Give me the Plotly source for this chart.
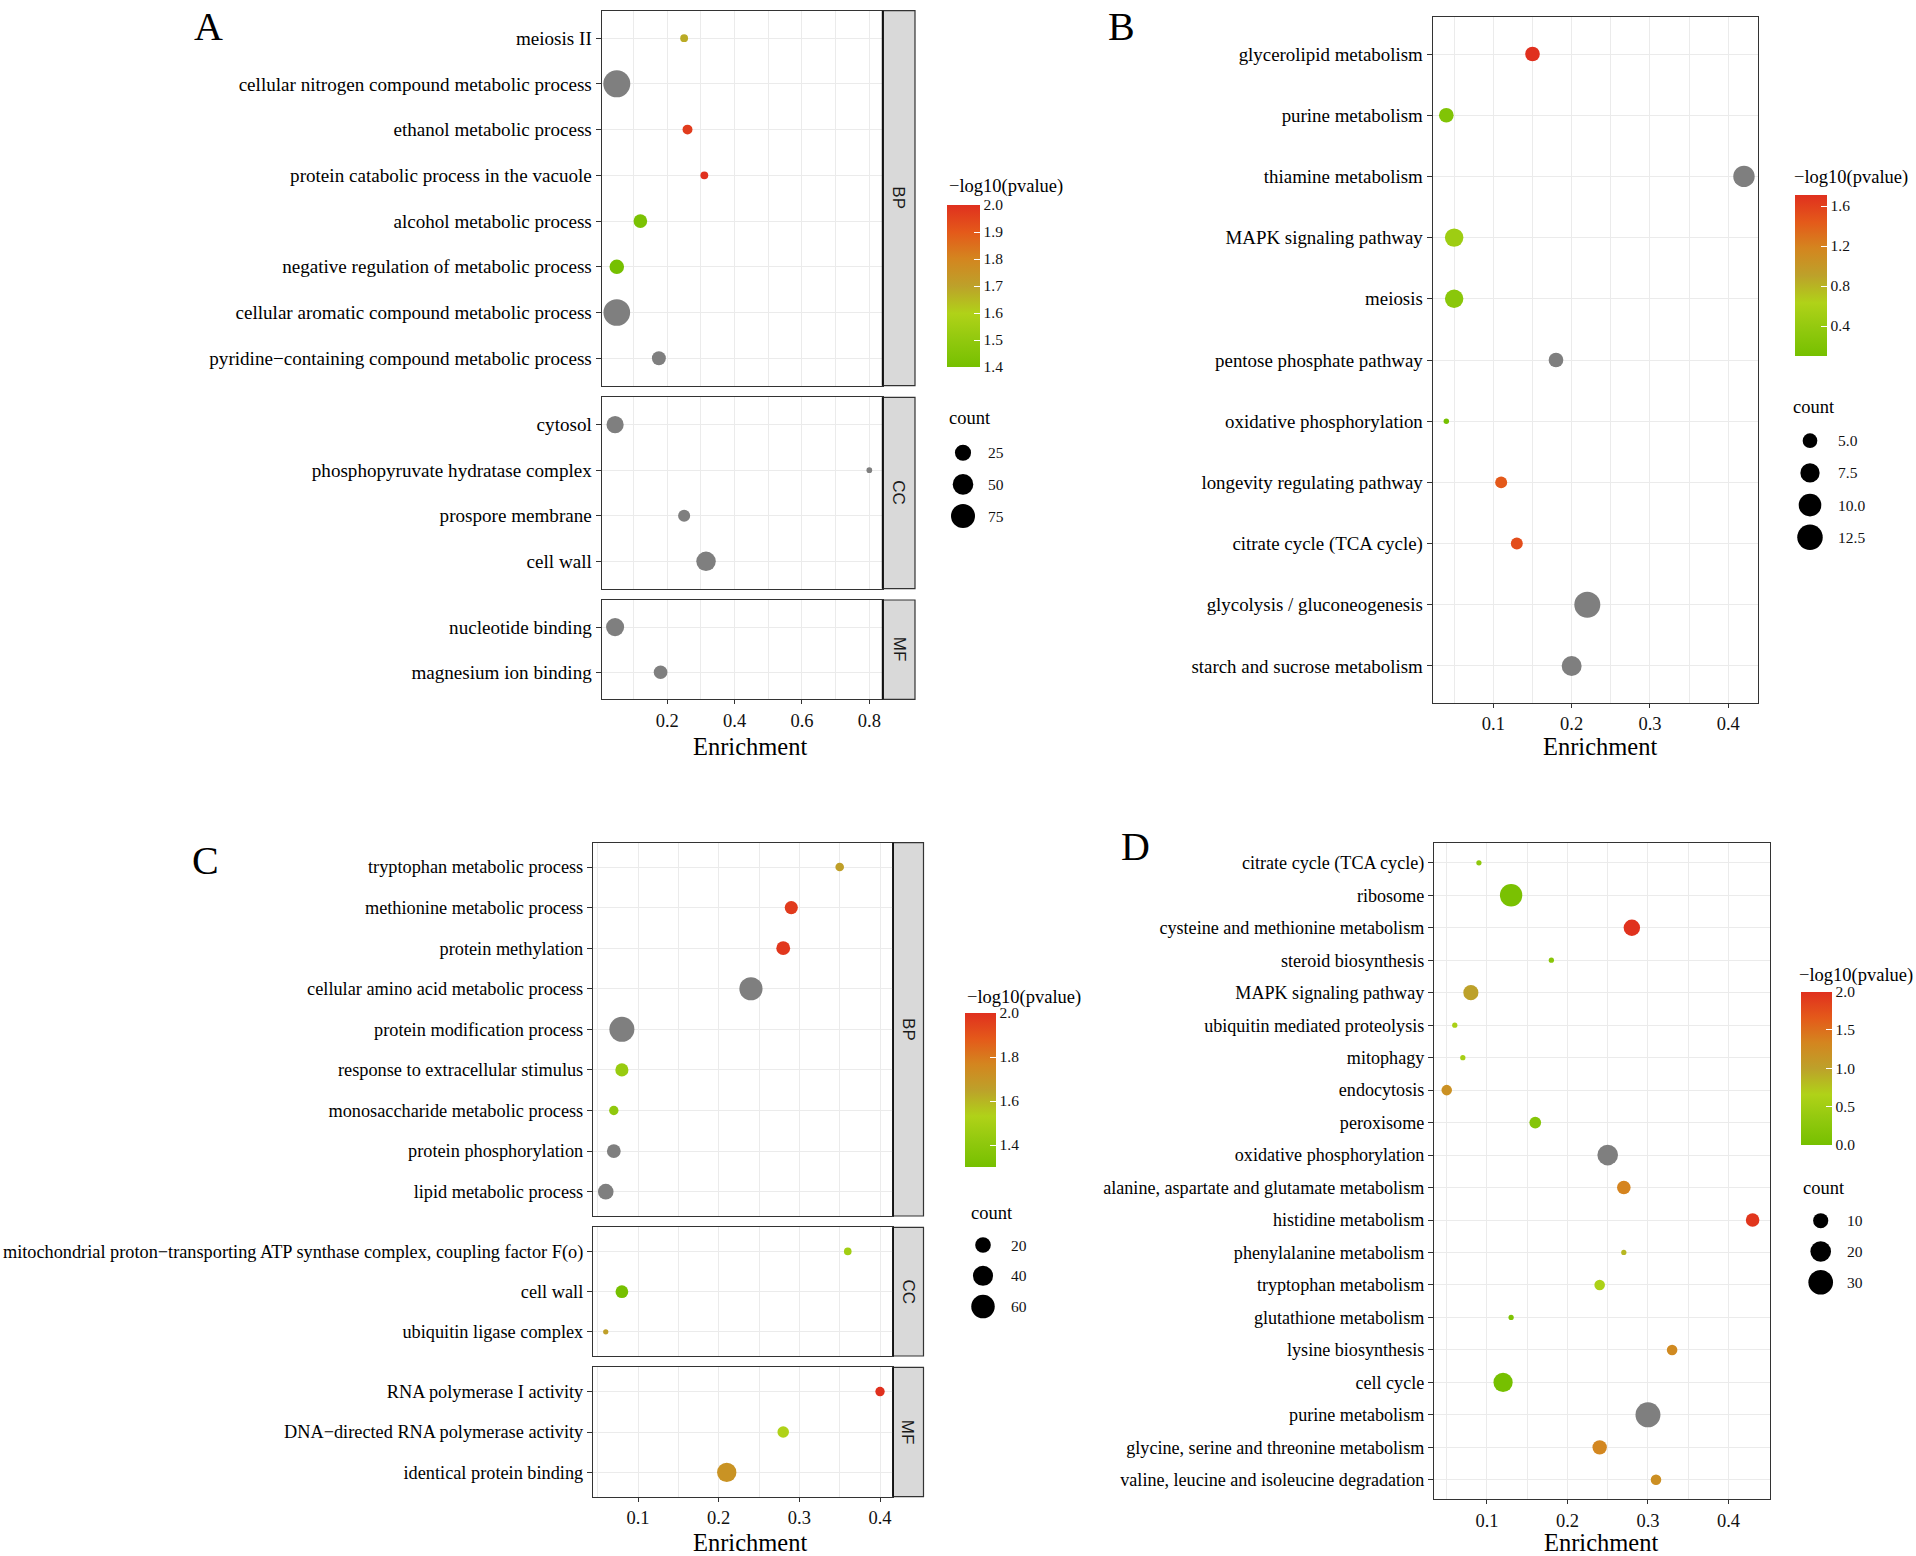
import plotly.graph_objects as go

W, H = 1916, 1556
SERIF = "Liberation Serif"
SANS = "Liberation Sans"
GRID = "#EBEBEB"
LINE = "#333333"
NA_COLOR = "#7F7F7F"

# ---------------- DATA ----------------
# Panel A (GO)
A_BP_terms = ["meiosis II", "cellular nitrogen compound metabolic process", "ethanol metabolic process",
              "protein catabolic process in the vacuole", "alcohol metabolic process",
              "negative regulation of metabolic process", "cellular aromatic compound metabolic process",
              "pyridine\u2212containing compound metabolic process"]
A_BP_enrich = [0.25, 0.05, 0.26, 0.31, 0.12, 0.05, 0.05, 0.175]
A_BP_logp = [1.68, None, 1.97, 2.00, 1.42, 1.40, None, None]
A_BP_count = [2, 101, 5, 2, 15, 18, 98, 16]

A_CC_terms = ["cytosol", "phosphopyruvate hydratase complex", "prospore membrane", "cell wall"]
A_CC_enrich = [0.045, 0.80, 0.25, 0.315]
A_CC_logp = [None, None, None, None]
A_CC_count = [30, 1, 10, 43]

A_MF_terms = ["nucleotide binding", "magnesium ion binding"]
A_MF_enrich = [0.045, 0.18]
A_MF_logp = [None, None]
A_MF_count = [35, 15]

A_xticks = [0.2, 0.4, 0.6, 0.8]
A_xminor = [0.1, 0.3, 0.5, 0.7]
A_cbar_ticks = [1.4, 1.5, 1.6, 1.7, 1.8, 1.9, 2.0]
A_size_breaks = [25, 50, 75]

# Panel B (KEGG)
B_terms = ["glycerolipid metabolism", "purine metabolism", "thiamine metabolism", "MAPK signaling pathway",
           "meiosis", "pentose phosphate pathway", "oxidative phosphorylation", "longevity regulating pathway",
           "citrate cycle (TCA cycle)", "glycolysis / gluconeogenesis", "starch and sucrose metabolism"]
B_enrich = [0.15, 0.04, 0.42, 0.05, 0.05, 0.18, 0.04, 0.11, 0.13, 0.22, 0.20]
B_logp = [1.71, 0.21, None, 0.48, 0.30, None, 0.10, 1.44, 1.52, None, None]
B_count = [5, 5, 9, 7, 7, 5, 3, 4, 4, 13, 8]
B_xticks = [0.1, 0.2, 0.3, 0.4]
B_xminor = [0.05, 0.15, 0.25, 0.35]
B_cbar_ticks = [0.4, 0.8, 1.2, 1.6]
B_size_breaks = [5.0, 7.5, 10.0, 12.5]

# Panel C (GO)
C_BP_terms = ["tryptophan metabolic process", "methionine metabolic process", "protein methylation",
              "cellular amino acid metabolic process", "protein modification process",
              "response to extracellular stimulus", "monosaccharide metabolic process",
              "protein phosphorylation", "lipid metabolic process"]
C_BP_enrich = [0.35, 0.29, 0.28, 0.24, 0.08, 0.08, 0.07, 0.07, 0.06]
C_BP_logp = [1.66, 1.97, 1.98, None, None, 1.44, 1.41, None, None]
C_BP_count = [3, 12, 14, 58, 70, 12, 4, 14, 20]

C_CC_terms = ["mitochondrial proton\u2212transporting ATP synthase complex, coupling factor F(o)",
              "cell wall", "ubiquitin ligase complex"]
C_CC_enrich = [0.36, 0.08, 0.06]
C_CC_logp = [1.48, 1.30, 1.66]
C_CC_count = [2, 11, 1]

C_MF_terms = ["RNA polymerase I activity", "DNA\u2212directed RNA polymerase activity", "identical protein binding"]
C_MF_enrich = [0.40, 0.28, 0.21]
C_MF_logp = [2.00, 1.53, 1.71]
C_MF_count = [4, 8, 36]

C_xticks = [0.1, 0.2, 0.3, 0.4]
C_xminor = [0.05, 0.15, 0.25, 0.35]
C_cbar_ticks = [1.4, 1.6, 1.8, 2.0]
C_size_breaks = [20, 40, 60]

# Panel D (KEGG)
D_terms = ["citrate cycle (TCA cycle)", "ribosome", "cysteine and methionine metabolism", "steroid biosynthesis",
           "MAPK signaling pathway", "ubiquitin mediated proteolysis", "mitophagy", "endocytosis", "peroxisome",
           "oxidative phosphorylation", "alanine, aspartate and glutamate metabolism", "histidine metabolism",
           "phenylalanine metabolism", "tryptophan metabolism", "glutathione metabolism", "lysine biosynthesis",
           "cell cycle", "purine metabolism", "glycine, serine and threonine metabolism",
           "valine, leucine and isoleucine degradation"]
D_enrich = [0.09, 0.13, 0.28, 0.18, 0.08, 0.06, 0.07, 0.05, 0.16, 0.25, 0.27, 0.43, 0.27, 0.24, 0.13,
            0.33, 0.12, 0.30, 0.24, 0.31]
D_logp = [0.30, 0.05, 1.98, 0.22, 1.00, 0.60, 0.55, 1.20, 0.18, None, 1.35, 1.95, 0.85, 0.62, 0.10,
          1.28, 0.00, None, 1.32, 1.22]
D_count = [3, 24, 12, 3, 10, 3, 3, 5, 6, 20, 8, 8, 3, 5, 3, 5, 17, 31, 9, 5]
D_xticks = [0.1, 0.2, 0.3, 0.4]
D_xminor = [0.05, 0.15, 0.25, 0.35]
D_cbar_ticks = [0.0, 0.5, 1.0, 1.5, 2.0]
D_size_breaks = [10, 20, 30]

CS = [[0.0, "#76C000"], [0.17, "#92C90E"], [0.33, "#B0D218"], [0.5, "#BDA12A"],
      [0.67, "#D4851F"], [0.83, "#E45A1A"], [1.0, "#E0301E"]]


# ---------------- HELPERS ----------------
def fx(p):
    return p / W


def fy(p):
    return 1 - p / H


def size_scale(counts, dmax):
    cmin, cmax = min(counts), max(counts)
    dmin = dmax / 4.75
    return lambda c: dmin + (dmax - dmin) * max(0.0, (c - cmin) / (cmax - cmin)) ** 0.5


fig = go.Figure()
layout = {}
shapes = []
annotations = []
ax_counter = [0]


def new_axes():
    ax_counter[0] += 1
    i = ax_counter[0]
    s = "" if i == 1 else str(i)
    return "xaxis" + s, "yaxis" + s, "x" + s, "y" + s


def add_facet(terms, enrich, logp, count, sfun, cax, xdom, ydom, xrange, major, minor, bottom,
              strip=None, strip_right=None, ysize=18.5):
    xa, ya, xr, yr = new_axes()
    n = len(terms)
    col = [(t, e, v, c) for t, e, v, c in zip(terms, enrich, logp, count) if v is not None]
    na = [(t, e, c) for t, e, v, c in zip(terms, enrich, logp, count) if v is None]
    if na:
        fig.add_trace(go.Scatter(
            x=[p[1] for p in na], y=[p[0] for p in na], mode="markers",
            marker=dict(size=[sfun(p[2]) for p in na], color=NA_COLOR, line=dict(width=0), opacity=1),
            xaxis=xr, yaxis=yr, hoverinfo="skip", showlegend=False))
    if col:
        fig.add_trace(go.Scatter(
            x=[p[1] for p in col], y=[p[0] for p in col], mode="markers",
            marker=dict(size=[sfun(p[3]) for p in col], color=[p[2] for p in col], coloraxis=cax,
                        line=dict(width=0), opacity=1),
            xaxis=xr, yaxis=yr, hoverinfo="skip", showlegend=False))
    layout[xa] = dict(
        domain=[fx(xdom[0]), fx(xdom[1])], range=xrange, anchor=yr,
        tickmode="array", tickvals=major, ticktext=["%.1f" % v for v in major],
        showgrid=True, gridcolor=GRID, gridwidth=1.4,
        minor=dict(tickmode="array", tickvals=minor, showgrid=True, gridcolor=GRID, gridwidth=0.7),
        showline=True, mirror=True, linecolor=LINE, linewidth=1.2,
        ticks="outside" if bottom else "", ticklen=4, tickwidth=1.1, tickcolor=LINE,
        showticklabels=bottom, tickfont=dict(family=SERIF, size=18.5, color="#111111"),
        zeroline=False, fixedrange=True)
    layout[ya] = dict(
        domain=[fy(ydom[1]), fy(ydom[0])], type="category", categoryorder="array",
        categoryarray=terms, range=[n - 0.4, -0.6], anchor=xr,
        showgrid=True, gridcolor=GRID, gridwidth=1.4,
        showline=True, mirror=True, linecolor=LINE, linewidth=1.2,
        ticks="outside", ticklen=5, tickwidth=1.1, tickcolor=LINE,
        tickfont=dict(family=SERIF, size=ysize, color="#000000"),
        zeroline=False, fixedrange=True)
    if strip:
        shapes.append(dict(type="rect", xref="paper", yref="paper",
                           x0=fx(xdom[1]), x1=fx(strip_right), y0=fy(ydom[1]), y1=fy(ydom[0]),
                           fillcolor="#D9D9D9", line=dict(color=LINE, width=1.2), layer="below"))
        shapes.append(dict(type="line", xref="paper", yref="paper",
                           x0=fx(xdom[1]), x1=fx(xdom[1]), y0=fy(ydom[1]), y1=fy(ydom[0]),
                           line=dict(color="#111111", width=1.8)))
        annotations.append(dict(x=fx((xdom[1] + strip_right) / 2), y=fy((ydom[0] + ydom[1]) / 2),
                                xref="paper", yref="paper", text=strip, showarrow=False, textangle=90,
                                font=dict(family=SANS, size=17, color="#1A1A1A"),
                                xanchor="center", yanchor="middle"))


def add_size_legend(breaks, sfun, keyx, key_y0, sp, label_left, fmt):
    xa, ya, xr, yr = new_axes()
    n = len(breaks)
    layout[xa] = dict(domain=[fx(keyx - 20), fx(keyx + 20)], range=[-1, 1], visible=False,
                      anchor=yr, fixedrange=True)
    layout[ya] = dict(domain=[fy(key_y0 + (n - 0.5) * sp), fy(key_y0 - 0.5 * sp)],
                      range=[n - 0.5, -0.5], visible=False, anchor=xr, fixedrange=True)
    fig.add_trace(go.Scatter(
        x=[0] * n, y=list(range(n)), mode="markers",
        marker=dict(size=[sfun(b) for b in breaks], color="#000000", line=dict(width=0), opacity=1),
        xaxis=xr, yaxis=yr, hoverinfo="skip", showlegend=False))
    for i, b in enumerate(breaks):
        annotations.append(dict(x=fx(label_left), y=fy(key_y0 + i * sp), xref="paper", yref="paper",
                                text=fmt % b, showarrow=False, xanchor="left", yanchor="middle",
                                font=dict(family=SERIF, size=15.5, color="#111111")))


def colorbar(cmin, cmax, ticks, x_left, y_top, length, thick):
    return dict(
        cmin=cmin, cmax=cmax, colorscale=CS,
        colorbar=dict(x=fx(x_left), xanchor="left", y=fy(y_top), yanchor="top",
                      len=length, lenmode="pixels", thickness=thick, thicknessmode="pixels",
                      xpad=0, ypad=0, outlinewidth=0, tickmode="array", tickvals=ticks,
                      ticktext=["%.1f" % t for t in ticks], ticks="inside", ticklen=6,
                      tickcolor="white", tickwidth=1,
                      tickfont=dict(family=SERIF, size=15.5, color="#111111")))


def text(x, y, s, size, anchor="left"):
    annotations.append(dict(x=fx(x), y=fy(y), xref="paper", yref="paper", text=s, showarrow=False,
                            xanchor=anchor, yanchor="middle",
                            font=dict(family=SERIF, size=size, color="#000000")))


# ---------------- PANEL A ----------------
sA = size_scale(A_BP_count + A_CC_count + A_MF_count, 27)
A_xr = [0.0052, 0.8397]
add_facet(A_BP_terms, A_BP_enrich, A_BP_logp, A_BP_count, sA, "coloraxis", (601.7, 882.7), (10.7, 385.7),
          A_xr, A_xticks, A_xminor, False, "BP", 915, ysize=19.1)
add_facet(A_CC_terms, A_CC_enrich, A_CC_logp, A_CC_count, sA, "coloraxis", (601.7, 882.7), (397.3, 588.7),
          A_xr, A_xticks, A_xminor, False, "CC", 915, ysize=19.1)
add_facet(A_MF_terms, A_MF_enrich, A_MF_logp, A_MF_count, sA, "coloraxis", (601.7, 882.7), (600, 699.3),
          A_xr, A_xticks, A_xminor, True, "MF", 915, ysize=19.1)
layout["coloraxis"] = colorbar(1.4, 2.0, A_cbar_ticks, 946.7, 205, 162, 33)
add_size_legend(A_size_breaks, sA, 963, 452.7, 31.7, 986, "%d")
text(947, 186.7, "\u2212log10(pvalue)", 18.5)
text(947, 418, "count", 18.5)
text(750, 746, "Enrichment", 24.5, "center")
text(208.6, 27, "A", 40, "center")

# ---------------- PANEL B ----------------
sB = size_scale(B_count, 26)
add_facet(B_terms, B_enrich, B_logp, B_count, sB, "coloraxis2", (1432.7, 1758.3), (17.3, 702.7),
          [0.0226, 0.4383], B_xticks, B_xminor, True, ysize=18.9)
layout["coloraxis2"] = colorbar(0.10, 1.71, B_cbar_ticks, 1794.5, 195, 161, 32)
add_size_legend(B_size_breaks, sB, 1810, 440.7, 32.2, 1836, "%.1f")
text(1792, 178, "\u2212log10(pvalue)", 18.5)
text(1791, 407, "count", 18.5)
text(1600, 746, "Enrichment", 24.5, "center")
text(1121, 27, "B", 40, "center")

# ---------------- PANEL C ----------------
sC = size_scale(C_BP_count + C_CC_count + C_MF_count, 25)
C_xr = [0.0442, 0.4161]
add_facet(C_BP_terms, C_BP_enrich, C_BP_logp, C_BP_count, sC, "coloraxis3", (593, 893), (842.7, 1216),
          C_xr, C_xticks, C_xminor, False, "BP", 923.5, ysize=18.3)
add_facet(C_CC_terms, C_CC_enrich, C_CC_logp, C_CC_count, sC, "coloraxis3", (593, 893), (1227.3, 1356),
          C_xr, C_xticks, C_xminor, False, "CC", 923.5, ysize=18.3)
add_facet(C_MF_terms, C_MF_enrich, C_MF_logp, C_MF_count, sC, "coloraxis3", (593, 893), (1367.3, 1496.7),
          C_xr, C_xticks, C_xminor, True, "MF", 923.5, ysize=18.3)
layout["coloraxis3"] = colorbar(1.30, 2.0, C_cbar_ticks, 965, 1013, 154, 31)
add_size_legend(C_size_breaks, sC, 983, 1245, 30.8, 1009, "%d")
text(965, 998, "\u2212log10(pvalue)", 18.5)
text(969, 1213, "count", 18.5)
text(750, 1542, "Enrichment", 24.5, "center")
text(205.6, 860, "C", 40, "center")

# ---------------- PANEL D ----------------
sD = size_scale(D_count, 25)
add_facet(D_terms, D_enrich, D_logp, D_count, sD, "coloraxis4", (1434, 1769.5), (843.3, 1499.3),
          [0.0342, 0.451], D_xticks, D_xminor, True, ysize=18.1)
layout["coloraxis4"] = colorbar(0.0, 2.0, D_cbar_ticks, 1801, 991.7, 153, 31)
add_size_legend(D_size_breaks, sD, 1820.7, 1220.7, 30.8, 1845, "%d")
text(1797, 975, "\u2212log10(pvalue)", 18.5)
text(1801, 1188, "count", 18.5)
text(1601, 1542, "Enrichment", 24.5, "center")
text(1135.7, 846.7, "D", 40, "center")

fig.update_layout(
    width=W, height=H, margin=dict(l=0, r=0, t=0, b=0),
    paper_bgcolor="white", plot_bgcolor="white", showlegend=False,
    font=dict(family=SERIF, color="#000000"),
    shapes=shapes, annotations=annotations, **layout)

fig.write_html(
    "out.html",
    config={"displayModeBar": False},
    post_script="document.body.style.margin='0';document.body.style.padding='0';"
                "document.body.style.overflow='hidden';document.documentElement.style.overflow='hidden';")
